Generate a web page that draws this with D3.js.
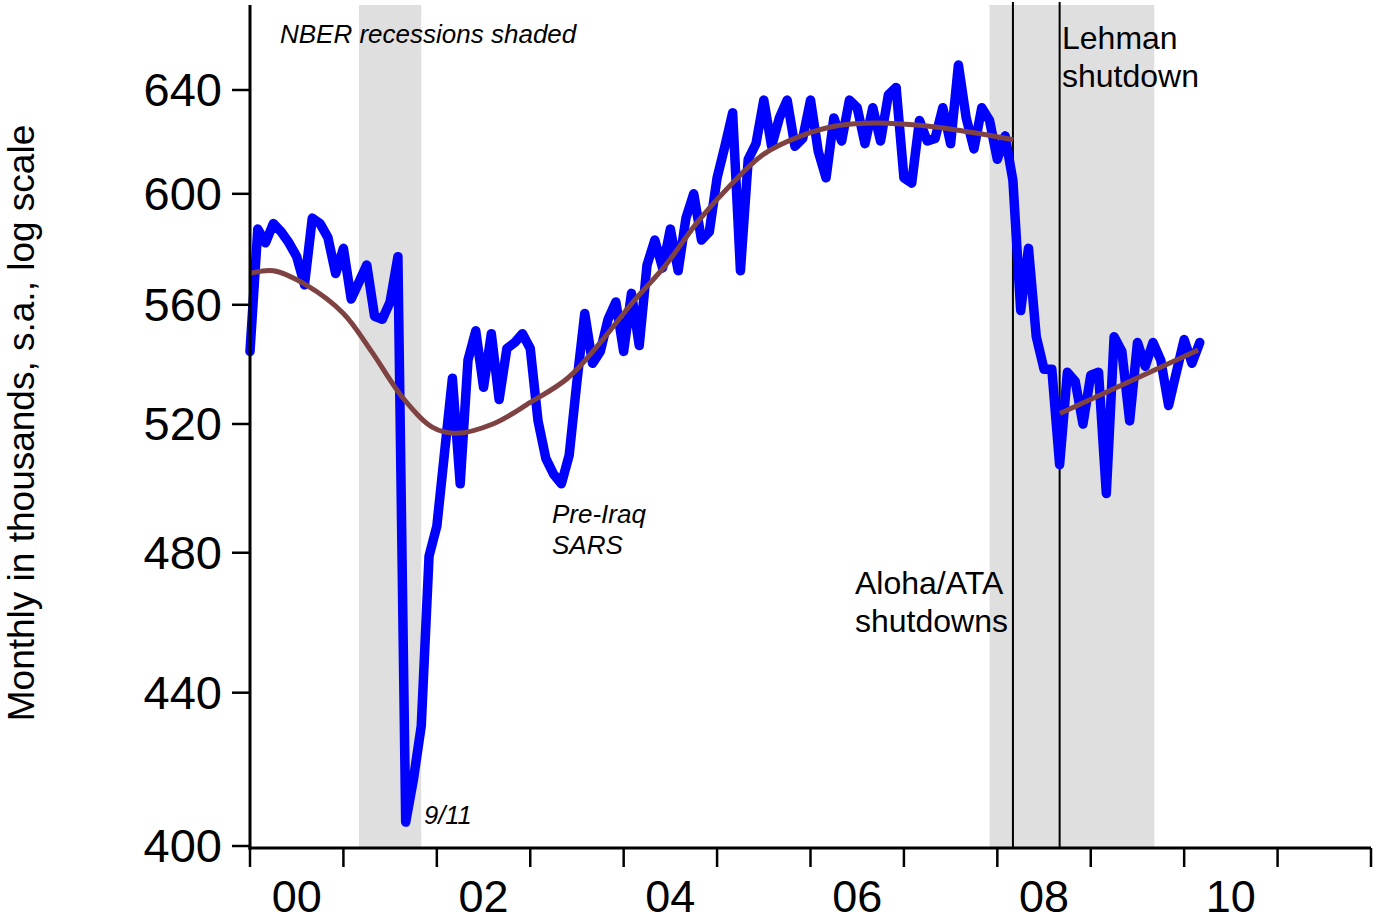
<!DOCTYPE html>
<html>
<head>
<meta charset="utf-8">
<script src="https://d3js.org/d3.v7.min.js"></script>
<style>
    body { margin: 0; background: #fff; }
    svg { display: block; font-family: Arial, "Liberation Sans", sans-serif; }
</style>
</head>
<body>
<div class="container"></div>
<script>
// monthly values, Jan 2000 .. Mar 2010 (thousands, s.a.)
var monthly = [
    544, 587, 582, 589, 586, 582, 577, 567, 591, 589, 584, 571,
    580, 562, 568, 574, 556, 555, 561, 577, 406, 417, 431, 479,
    488, 511, 535, 501, 541, 551, 532, 550, 528, 545, 547, 550,
    545, 521, 509, 504, 501, 510, 534, 557, 540, 544, 555, 561,
    544, 564, 546, 574, 583, 573, 587, 572, 591, 600, 583, 586,
    606, 618, 631, 572, 613, 619, 636, 618, 629, 636, 618, 621,
    636, 616, 606, 629, 620, 636, 633, 619, 633, 620, 638, 641,
    606, 604, 628, 620, 621, 633, 619, 650, 629, 617, 633, 628,
    613, 622, 605, 558, 580, 549, 538, 538, 507, 537, 534, 520,
    536, 537, 498, 549, 544, 521, 547, 539, 547, 541, 526, 537,
    548, 540, 547
];
var firstYear = 2000;

// smooth trend before the 2008 shutdowns
var trendYears = [2000.0, 2000.25, 2000.6, 2001.0, 2001.3, 2001.65, 2001.95, 2002.2, 2002.6,
    2003.0, 2003.4, 2003.75, 2004.1, 2004.45, 2004.8, 2005.15, 2005.5, 2005.9,
    2006.3, 2006.7, 2007.2, 2007.7, 2008.17];
var trendValues = [571, 572, 567, 557, 544, 528, 519, 517, 520,
    527, 535, 547, 561, 574, 590, 603.5, 615, 622,
    626, 627, 626, 623.5, 620.5];
// trend after Lehman
var trend2Years = [2008.67, 2010.15];
var trend2Values = [523.4, 544.5];

var recessions = [[2001.167, 2001.833], [2007.917, 2009.68]];
var eventYears = [2008.167, 2008.667];   // Aloha/ATA, Lehman

var yTicks = [400, 440, 480, 520, 560, 600, 640];
var yearTicks = d3.range(2000, 2013);
var yearLabels = ["00", "02", "04", "06", "08", "10"];

var plotLeft = 250, plotRight = 1371, plotTop = 5, plotBottom = 848;

var svg = d3.select(".container").append("svg")
    .attr("width", 1379)
    .attr("height", 922);

var x = d3.scaleLinear().domain([2000, 2012]).range([plotLeft, plotRight]);
var y = d3.scaleLog().domain([400, 640]).range([846, 90]);

// recession shading
svg.selectAll(".recession")
    .data(recessions)
    .enter()
    .append("rect")
    .attr("x", d => x(d[0]))
    .attr("width", d => x(d[1]) - x(d[0]))
    .attr("y", plotTop)
    .attr("height", plotBottom - plotTop)
    .attr("fill", "#dfdfdf");

svg.selectAll(".event")
    .data(eventYears)
    .enter()
    .append("line")
    .attr("x1", d => x(d))
    .attr("x2", d => x(d))
    .attr("y1", 2)
    .attr("y2", plotBottom)
    .attr("stroke", "#000")
    .attr("stroke-width", 2);

var line = d3.line()
    .x(d => x(d[0]))
    .y(d => y(d[1]));

svg.append("path")
    .datum(monthly.map((v, i) => [firstYear + i / 12, v]))
    .attr("d", line)
    .attr("fill", "none")
    .attr("stroke", "#0000ff")
    .attr("stroke-width", 9.5)
    .attr("stroke-linejoin", "round")
    .attr("stroke-linecap", "round");

svg.append("path")
    .datum(trendYears.map((t, i) => [t, trendValues[i]]))
    .attr("d", d3.line().x(d => x(d[0])).y(d => y(d[1])).curve(d3.curveCatmullRom))
    .attr("fill", "none")
    .attr("stroke", "#7f4242")
    .attr("stroke-width", 5);

svg.append("path")
    .datum(trend2Years.map((t, i) => [t, trend2Values[i]]))
    .attr("d", line)
    .attr("fill", "none")
    .attr("stroke", "#7f4242")
    .attr("stroke-width", 5);

// axes
svg.append("line")
    .attr("x1", plotLeft).attr("x2", plotLeft)
    .attr("y1", plotTop).attr("y2", plotBottom + 1.5)
    .attr("stroke", "#000").attr("stroke-width", 3);
svg.append("line")
    .attr("x1", plotLeft - 1.5).attr("x2", plotRight)
    .attr("y1", plotBottom).attr("y2", plotBottom)
    .attr("stroke", "#000").attr("stroke-width", 3);

svg.selectAll(".ytick")
    .data(yTicks)
    .enter()
    .append("line")
    .attr("x1", 232).attr("x2", plotLeft)
    .attr("y1", d => y(d)).attr("y2", d => y(d))
    .attr("stroke", "#000").attr("stroke-width", 2.5);

svg.selectAll(".ylabel")
    .data(yTicks)
    .enter()
    .append("text")
    .attr("x", 222)
    .attr("y", d => y(d) + 16)
    .attr("text-anchor", "end")
    .attr("font-size", 47)
    .text(d => d);

svg.selectAll(".xtick")
    .data(yearTicks)
    .enter()
    .append("line")
    .attr("x1", d => x(d)).attr("x2", d => x(d))
    .attr("y1", plotBottom).attr("y2", 867)
    .attr("stroke", "#000").attr("stroke-width", 2.5);

svg.selectAll(".xlabel")
    .data(yearLabels)
    .enter()
    .append("text")
    .attr("x", (d, i) => x(2000 + i * 2 + 0.5))
    .attr("y", 911.5)
    .attr("text-anchor", "middle")
    .attr("font-size", 45)
    .text(d => d);

svg.append("text")
    .attr("transform", "translate(34,423) rotate(-90)")
    .attr("text-anchor", "middle")
    .attr("font-size", 37)
    .text("Monthly in thousands, s.a., log scale");

// annotations
var notes = [
    {text: ["NBER recessions shaded"], x: 280, y: 43, size: 26, italic: true},
    {text: ["9/11"], x: 424, y: 824, size: 25.5, italic: true},
    {text: ["Pre-Iraq", "SARS"], x: 552, y: 523, size: 26, italic: true},
    {text: ["Aloha/ATA", "shutdowns"], x: 855, y: 594, size: 32, italic: false},
    {text: ["Lehman", "shutdown"], x: 1062, y: 49, size: 32, italic: false}
];
notes.forEach(n => {
    var t = svg.append("text")
        .attr("x", n.x)
        .attr("y", n.y)
        .attr("font-size", n.size)
        .attr("font-style", n.italic ? "italic" : "normal");
    t.selectAll("tspan")
        .data(n.text)
        .enter()
        .append("tspan")
        .attr("x", n.x)
        .attr("dy", (d, i) => i ? n.size * 1.18 : 0)
        .text(d => d);
});
</script>
</body>
</html>
